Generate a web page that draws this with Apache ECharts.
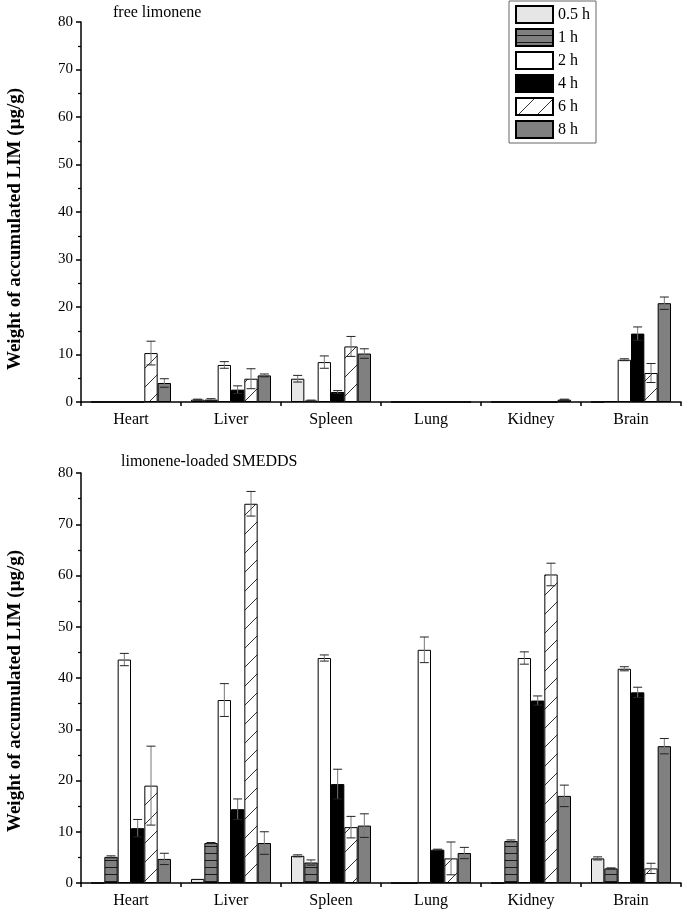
<!DOCTYPE html>
<html><head><meta charset="utf-8">
<script src="https://cdn.jsdelivr.net/npm/echarts@6/dist/echarts.min.js"></script>
<style>html,body{margin:0;padding:0;background:#fff}#c{width:685px;height:915px}</style>
</head><body><div id="c"></div>
<script>
const categories = ['Heart','Liver','Spleen','Lung','Kidney','Brain'];
const seriesNames = ['0.5 h','1 h','2 h','4 h','6 h','8 h'];
const yTicks = [0,10,20,30,40,50,60,70,80];

// free limonene (top panel)
const free_05h = [0, 0.5, 4.9, 0, 0, 0];
const free_1h  = [0, 0.5, 0.3, 0, 0, 0.2];
const free_2h  = [0, 7.8, 8.4, 0, 0, 8.9];
const free_4h  = [0, 2.6, 2.1, 0, 0, 14.4];
const free_6h  = [10.3, 4.9, 11.7, 0, 0, 6.1];
const free_8h  = [4.0, 5.6, 10.2, 0, 0.5, 20.8];
const freeErr_05h = [0, 0.1, 0.7, 0, 0, 0];
const freeErr_1h  = [0, 0.2, 0.1, 0, 0, 0];
const freeErr_2h  = [0, 0.7, 1.3, 0, 0, 0.2];
const freeErr_4h  = [0, 0.8, 0.3, 0, 0, 1.4];
const freeErr_6h  = [2.5, 2.1, 2.1, 0, 0, 2.0];
const freeErr_8h  = [0.9, 0.3, 1.0, 0, 0.1, 1.3];

// limonene-loaded SMEDDS (bottom panel)
const smedds_05h = [0, 0.8, 5.3, 0, 0, 4.8];
const smedds_1h  = [5.1, 7.8, 4.0, 0, 8.2, 2.85];
const smedds_2h  = [43.6, 35.7, 43.9, 45.5, 43.9, 41.8];
const smedds_4h  = [10.7, 14.4, 19.3, 6.5, 35.6, 37.2];
const smedds_6h  = [19.0, 74.0, 10.9, 4.8, 60.2, 2.85];
const smedds_8h  = [4.7, 7.8, 11.2, 5.85, 17.0, 26.7];
const smeddsErr_05h = [0, 0, 0.2, 0, 0, 0.3];
const smeddsErr_1h  = [0.2, 0.1, 0.5, 0, 0.2, 0.1];
const smeddsErr_2h  = [1.2, 3.2, 0.6, 2.5, 1.2, 0.4];
const smeddsErr_4h  = [1.7, 2.0, 2.9, 0.1, 0.9, 1.0];
const smeddsErr_6h  = [7.7, 2.4, 2.1, 3.2, 2.2, 1.0];
const smeddsErr_8h  = [1.1, 2.2, 2.3, 1.1, 2.1, 1.5];

const freeVals = [free_05h, free_1h, free_2h, free_4h, free_6h, free_8h];
const freeErrs = [freeErr_05h, freeErr_1h, freeErr_2h, freeErr_4h, freeErr_6h, freeErr_8h];
const smVals = [smedds_05h, smedds_1h, smedds_2h, smedds_4h, smedds_6h, smedds_8h];
const smErrs = [smeddsErr_05h, smeddsErr_1h, smeddsErr_2h, smeddsErr_4h, smeddsErr_6h, smeddsErr_8h];

function hPattern(){
  const c = document.createElement('canvas'); c.width = 8; c.height = 7;
  const g = c.getContext('2d');
  g.fillStyle = '#808080'; g.fillRect(0,0,8,7);
  g.strokeStyle = '#1a1a1a'; g.lineWidth = 1;
  g.beginPath(); g.moveTo(0,6.5); g.lineTo(8,6.5); g.stroke();
  return c;
}
function dPattern(){
  const s = 19;
  const c = document.createElement('canvas'); c.width = s; c.height = s;
  const g = c.getContext('2d');
  g.fillStyle = '#ffffff'; g.fillRect(0,0,s,s);
  g.strokeStyle = '#333'; g.lineWidth = 1;
  g.beginPath(); g.moveTo(-1,s+1); g.lineTo(s+1,-1); g.stroke();
  return c;
}
const fills = [
  '#e6e6e6',
  {image: hPattern(), repeat: 'repeat'},
  '#ffffff',
  '#000000',
  {image: dPattern(), repeat: 'repeat'},
  '#808080'
];

const font = 'Liberation Serif, Times New Roman, serif';

function xAxes(gridIndex){
  return [
    {type:'category', gridIndex, data: categories, boundaryGap: true,
     axisLine:{lineStyle:{color:'#000', width:1.5}},
     axisTick:{alignWithLabel:true, length:6, lineStyle:{color:'#000', width:1.5}},
     axisLabel:{color:'#000', fontSize:16, fontFamily:font, margin:10}},
    {type:'category', gridIndex, data: categories, boundaryGap: true, position:'bottom',
     axisLine:{show:false},
     axisTick:{show:true, length:4, lineStyle:{color:'#000', width:1.5}},
     axisLabel:{show:false}}
  ];
}
function yAxis(gridIndex){
  return {type:'value', gridIndex, min:yTicks[0], max:yTicks[yTicks.length-1], interval:10,
    axisLine:{show:true, lineStyle:{color:'#000', width:1.5}},
    axisTick:{show:true, length:5, lineStyle:{color:'#000', width:1.5}},
    minorTick:{show:true, splitNumber:2, length:3, lineStyle:{color:'#000', width:1.2}},
    splitLine:{show:false},
    axisLabel:{color:'#000', fontSize:15, fontFamily:font, margin:8}};
}

function errRender(params, api){
  const ci = api.value(0), lo = api.value(1), hi = api.value(2), si = api.value(3);
  const band = api.size([1,0])[0];
  const bw = band*0.8/6;
  const ph = api.coord([ci, hi]); const pl = api.coord([ci, lo]);
  const x = ph[0] + (si-2.5)*bw;
  const h = 4.5;
  return {type:'group', children:[
    {type:'line', shape:{x1:x,y1:ph[1],x2:x,y2:pl[1]}, style:{stroke:'#777', lineWidth:1}},
    {type:'line', shape:{x1:x-h,y1:ph[1],x2:x+h,y2:ph[1]}, style:{stroke:'#222', lineWidth:1}},
    {type:'line', shape:{x1:x-h,y1:pl[1],x2:x+h,y2:pl[1]}, style:{stroke:'#222', lineWidth:1}}
  ]};
}

const series = [];
[[freeVals, freeErrs, 0, 0], [smVals, smErrs, 2, 1]].forEach(([vals, errs, xi, yi])=>{
  vals.forEach((v, si)=>{
    series.push({type:'bar', name: seriesNames[si], xAxisIndex: xi, yAxisIndex: yi,
      data: v, barGap:'0%', barCategoryGap:'20%',
      itemStyle:{color: fills[si], borderColor:'#000', borderWidth:1},
      emphasis:{disabled:true}, animation:false});
  });
  const ed = [];
  errs.forEach((e, si)=>{
    e.forEach((ev, ci)=>{
      if (ev > 0) ed.push([ci, vals[si][ci]-ev, vals[si][ci]+ev, si]);
    });
  });
  series.push({type:'custom', xAxisIndex: xi, yAxisIndex: yi, renderItem: errRender,
    data: ed, encode:{x:0, y:[1,2]}, z:5, animation:false, silent:true});
});

const chart = echarts.init(document.getElementById('c'));
chart.setOption({
  backgroundColor:'#fff',
  animation:false,
  grid:[
    {left:81, top:22, width:600, height:380},
    {left:81, top:473, width:600, height:410}
  ],
  xAxis:[...xAxes(0), ...xAxes(1)],
  yAxis:[yAxis(0), yAxis(1)],
  legend:{data: seriesNames, orient:'vertical', left:509, top:1, icon:'rect',
    itemWidth:37, itemHeight:17, itemGap:4, padding:[4,6,4,6],
    borderColor:'#666', borderWidth:1, selectedMode:false,
    textStyle:{color:'#000', fontSize:16, fontFamily:font}},
  graphic:[
    {type:'text', left:113, top:5, style:{text:'free limonene', font:'16px '+font, fill:'#000'}},
    {type:'text', left:121, top:454, style:{text:'limonene-loaded SMEDDS', font:'16px '+font, fill:'#000'}},
    {type:'text', x:15, y:229, rotation:Math.PI/2, style:{text:'Weight of accumulated LIM (μg/g)', font:'bold 19px '+font, fill:'#000', textAlign:'center', textVerticalAlign:'middle'}},
    {type:'text', x:15, y:691, rotation:Math.PI/2, style:{text:'Weight of accumulated LIM (μg/g)', font:'bold 19px '+font, fill:'#000', textAlign:'center', textVerticalAlign:'middle'}}
  ],
  series
});
</script></body></html>
